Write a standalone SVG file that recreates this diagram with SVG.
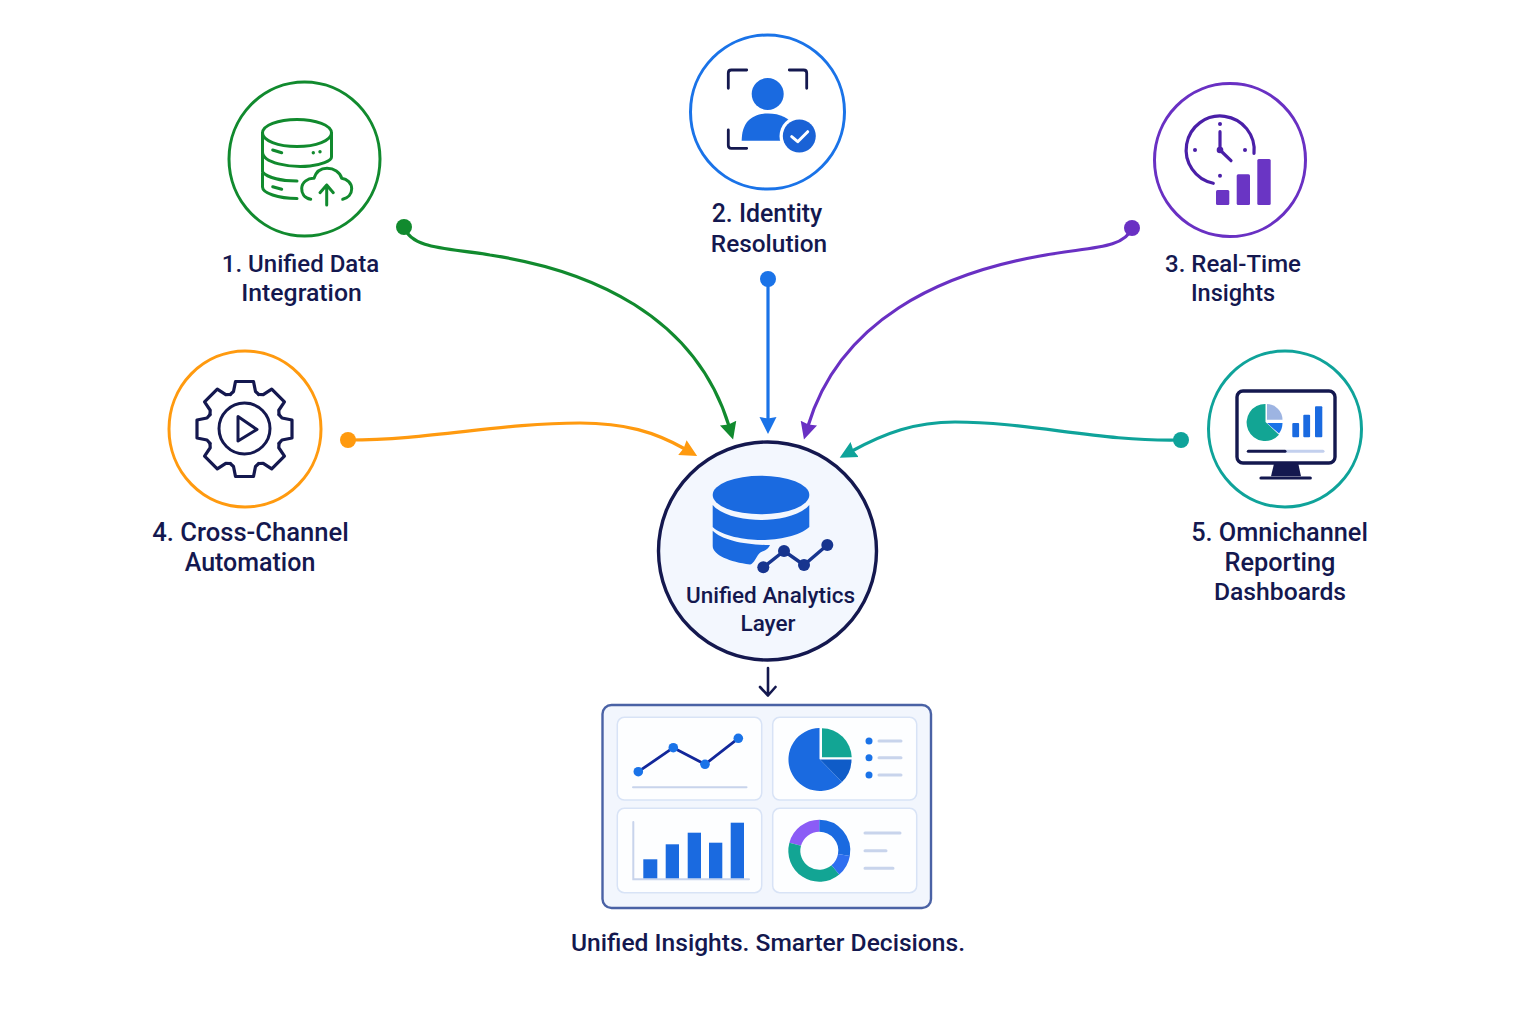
<svg xmlns="http://www.w3.org/2000/svg" width="1535" height="1024" viewBox="0 0 1535 1024">
<style>
text{font-family:"Roboto","Liberation Sans",sans-serif;font-weight:500;fill:#14184f;text-anchor:middle;font-size:24px}
.ring{fill:#fff;stroke-width:3}
.ln{fill:none;stroke-linecap:round;stroke-linejoin:round}
.conn{fill:none;stroke-width:3.200;stroke-linecap:round}
.green{stroke:#118a2e}.blue{stroke:#1a73e8}.purple{stroke:#6930c3}.orange{stroke:#ff9a0f}.teal{stroke:#0fa39a}
.card{fill:#fdfeff;stroke:#d8e3f6;stroke-width:1.5}
.soft{fill:none;stroke:#c8d4ec;stroke-width:3;stroke-linecap:round}
.bar{fill:#1a6ae0}
</style>
<defs>
<marker id="mg" markerUnits="userSpaceOnUse" markerWidth="20" markerHeight="20" viewBox="0 0 20 20" refX="3" refY="10" orient="auto"><polygon points="0,1.500 17,10 0,18.500 1.500,10" fill="#118a2e"/></marker>
<marker id="mb" markerUnits="userSpaceOnUse" markerWidth="20" markerHeight="20" viewBox="0 0 20 20" refX="3" refY="10" orient="auto"><polygon points="0,1.500 17,10 0,18.500 1.500,10" fill="#1a73e8"/></marker>
<marker id="mp" markerUnits="userSpaceOnUse" markerWidth="20" markerHeight="20" viewBox="0 0 20 20" refX="3" refY="10" orient="auto"><polygon points="0,1.500 17,10 0,18.500 1.500,10" fill="#6930c3"/></marker>
<marker id="mo" markerUnits="userSpaceOnUse" markerWidth="20" markerHeight="20" viewBox="0 0 20 20" refX="3" refY="10" orient="auto"><polygon points="0,1.500 17,10 0,18.500 1.500,10" fill="#ff9a0f"/></marker>
<marker id="mt" markerUnits="userSpaceOnUse" markerWidth="20" markerHeight="20" viewBox="0 0 20 20" refX="3" refY="10" orient="auto"><polygon points="0,1.500 17,10 0,18.500 1.500,10" fill="#0fa39a"/></marker>
<path id="gear-sector" d="M-14.300 -34.500L-11 -37.500L-9 -47.500L9 -47.500L11 -37.500L14.300 -34.500" fill="none" stroke="#14184f" stroke-width="3.200" stroke-linejoin="round" stroke-linecap="round"/>
</defs>
<rect width="1535" height="1024" fill="#fff"/>

<g id="connectors">
<path class="conn green" d="M404 227C412 250 450 248 490 255C590 270 695 315 729 426" marker-end="url(#mg)"/>
<circle cx="404" cy="227" r="8" fill="#118a2e"/>
<path class="conn blue" d="M768 279V420" marker-end="url(#mb)"/>
<circle cx="768" cy="279" r="8" fill="#1a73e8"/>
<path class="conn purple" d="M1132 228C1124 250 1085 247 1040 256C940 274 840 320 808 426" marker-end="url(#mp)"/>
<circle cx="1132" cy="228" r="8" fill="#6930c3"/>
<path class="conn orange" d="M348 440C430 440 500 423 580 423C625 423 655 432 685 449" marker-end="url(#mo)"/>
<circle cx="348" cy="440" r="8" fill="#ff9a0f"/>
<path class="conn teal" d="M1181 440C1100 442 1030 422 955 422C915 422 885 433 852 451" marker-end="url(#mt)"/>
<circle cx="1181" cy="440" r="8" fill="#0fa39a"/>
<path class="ln" d="M768 668V695M760 687L768 695.500L775.500 687" stroke="#14184f" stroke-width="2.600"/>
</g>

<g id="node-1">
<ellipse class="ring green" cx="304.500" cy="159" rx="75.500" ry="77"/>
<g class="ln green" stroke-width="3">
<ellipse cx="297" cy="133" rx="34.500" ry="13.500"/>
<path d="M262.500 133V187C262.500 193 278 198.500 297 198.500M331.500 133V157C331.500 161 320 165 310 166C290 168 262.500 163 262.500 152M262.500 172C268 178 282 181 297 181"/>
<path d="M272.700 150L281.700 152.700M272.700 186.700L281.700 189.300"/>
<path d="M310.700 199.300C304 198 301.500 193 301.700 188.300C302 182 308 178 314 178.300C316 172 321 168.300 327 168.300C334 168.300 340 172 341.700 178.300C347 179 351.700 183 351.700 188.800C351.700 194 348 198 342.700 199.300"/>
<path d="M326.700 205V185M320 192.700L326.700 185L333.300 192.700"/>
</g>
<circle cx="313.300" cy="152.700" r="1.700" fill="#118a2e"/><circle cx="320" cy="151.700" r="1.700" fill="#118a2e"/>
<text x="300.500" y="272">1. Unified Data</text>
<text x="301.500" y="301" style="font-size:24.800px">Integration</text>
</g>

<g id="node-2">
<circle class="ring blue" cx="767.500" cy="112" r="77"/>
<path class="ln" stroke="#14184f" stroke-width="2.800" d="M728.300 88.300V73Q728.300 70 731.300 70H746.700M789.300 70H803.700Q806.700 70 806.700 73V88.300M728.300 130V145.300Q728.300 148.300 731.300 148.300H746.700"/>
<circle cx="767.700" cy="94" r="16" fill="#1a6ae0"/>
<path d="M741.700 140.700C741.700 122 752 113.500 768 113.500C780 113.500 790 118 796 128V140.700Z" fill="#1a6ae0"/>
<circle cx="799.300" cy="136" r="19.800" fill="#fff"/>
<circle cx="799.300" cy="136" r="16.500" fill="#1a62d6"/>
<path class="ln" stroke="#fff" stroke-width="3" d="M791.700 136.700L797.700 141.700L807.700 131.700"/>
<text x="767" y="222" style="font-size:24.900px">2. Identity</text>
<text x="769" y="252" style="font-size:24.400px">Resolution</text>
</g>

<g id="node-3">
<ellipse class="ring purple" cx="1230" cy="160" rx="75.500" ry="76.500"/>
<g class="ln purple" stroke-width="3.200">
<path d="M1213.300 183.300A34 34 0 1 1 1254 153.300" stroke="#4a1fa8"/>
<path d="M1220 131.700V150L1231 160.700" stroke="#4a1fa8"/>
</g>
<circle cx="1220" cy="150" r="3.300" fill="#4a1fa8"/>
<g fill="#4a1fa8"><circle cx="1220" cy="124" r="2"/><circle cx="1195" cy="150" r="2"/><circle cx="1245" cy="150" r="2"/><circle cx="1220" cy="175.700" r="2"/></g>
<g fill="#6a35c4"><rect x="1216" y="190" width="13.300" height="15" rx="1.500"/><rect x="1236.700" y="174.300" width="13.300" height="30.700" rx="1.500"/><rect x="1257.300" y="159" width="13.400" height="46" rx="1.500"/></g>
<text x="1233" y="272">3. Real-Time</text>
<text x="1233" y="301" style="font-size:23.500px">Insights</text>
</g>

<g id="node-4">
<ellipse class="ring orange" cx="245" cy="429" rx="76" ry="78"/>
<g transform="translate(244.500 429)">
<use href="#gear-sector"/><use href="#gear-sector" transform="rotate(45)"/><use href="#gear-sector" transform="rotate(90)"/><use href="#gear-sector" transform="rotate(135)"/><use href="#gear-sector" transform="rotate(180)"/><use href="#gear-sector" transform="rotate(225)"/><use href="#gear-sector" transform="rotate(270)"/><use href="#gear-sector" transform="rotate(315)"/>
</g>
<circle cx="244.500" cy="428.500" r="25.500" fill="none" stroke="#14184f" stroke-width="3"/>
<path class="ln" stroke="#14184f" stroke-width="3" d="M238 416.500L257 429.500L238 441Z"/>
<text x="250.500" y="541" style="font-size:25.600px">4. Cross-Channel</text>
<text x="250" y="571" style="font-size:25px">Automation</text>
</g>

<g id="node-5">
<ellipse class="ring teal" cx="1285" cy="429" rx="76.500" ry="78"/>
<rect x="1237" y="391" width="98" height="72" rx="6" fill="#fff" stroke="#14184f" stroke-width="3.400"/>
<path d="M1265.500 404A18.500 18.500 0 1 0 1279 434.700L1265.500 422Z" fill="#12a594"/>
<path d="M1267 404A16 16 0 0 1 1282.500 419.700H1267Z" fill="#9db4e2"/>
<path d="M1267 423H1282.500A18 18 0 0 1 1279 433.500Z" fill="#1a73e8"/>
<g fill="#1a6ae0"><rect x="1292.300" y="423" width="6.800" height="14.300" rx="1"/><rect x="1303.300" y="414.700" width="6.800" height="22.600" rx="1"/><rect x="1315" y="406.300" width="7.300" height="31" rx="1"/></g>
<path class="ln" stroke="#c3d0ee" stroke-width="3" d="M1285 451.300H1323"/>
<path class="ln" stroke="#14184f" stroke-width="3" d="M1248.300 451.300H1285"/>
<path d="M1274 463.700H1298.300L1301 476.300H1271Z" fill="#14184f"/>
<path class="ln" stroke="#14184f" stroke-width="3.200" d="M1261 478H1310.300"/>
<text x="1279.500" y="541" style="font-size:25.300px">5. Omnichannel</text>
<text x="1280" y="571" style="font-size:25.300px">Reporting</text>
<text x="1280" y="600" style="font-size:24.700px">Dashboards</text>
</g>

<g id="node-center">
<circle cx="767.500" cy="551" r="109" fill="#f3f7fe" stroke="#14184f" stroke-width="3.400"/>
<ellipse cx="761" cy="495" rx="48.300" ry="19.300" fill="#1a6ae0"/>
<path d="M712.700 505C722 516 745 520 761 520C777 520 800 516 809.300 505V527C800 536 777 540 761 540C745 540 722 536 712.700 527Z" fill="#1a6ae0"/>
<path d="M712.700 530.700C722 540 745 545 770 545C767 552 761 550 758 555C755 560 753 564 750 564.500C730 562 712.700 555 712.700 546Z" fill="#1a6ae0"/>
<path class="ln" stroke="#17358f" stroke-width="3.400" d="M763.300 567.300L784 551L804 565L827.300 545"/>
<g fill="#17358f"><circle cx="763.300" cy="567.300" r="6"/><circle cx="784" cy="551" r="6"/><circle cx="804" cy="565" r="6"/><circle cx="827.300" cy="545" r="6"/></g>
<text x="770.500" y="603" style="font-size:22.500px">Unified Analytics</text>
<text x="768" y="631" style="font-size:22.500px">Layer</text>
</g>

<g id="dashboard">
<rect x="602.500" y="705" width="328.500" height="203" rx="9" fill="#f2f6fd" stroke="#4a62a5" stroke-width="2.400"/>
<rect class="card" x="617.300" y="717.300" width="144.400" height="82.700" rx="7"/>
<rect class="card" x="772.700" y="717.300" width="144" height="82.700" rx="7"/>
<rect class="card" x="617.300" y="808.300" width="144.400" height="84.400" rx="7"/>
<rect class="card" x="772.700" y="808.300" width="144" height="84.400" rx="7"/>
<path class="ln" stroke="#12279a" stroke-width="2.800" d="M638.300 771.700L673.300 747.700L705 764.300L738.300 738.300"/>
<g fill="#1a73e8"><circle cx="638.300" cy="771.700" r="4.800"/><circle cx="673.300" cy="747.700" r="4.800"/><circle cx="705" cy="764.300" r="4.800"/><circle cx="738.300" cy="738.300" r="4.800"/></g>
<path class="soft" style="stroke-width:2" d="M633 787.300H746.500"/>
<path d="M819.500 759V728A31.500 31.500 0 1 0 842 782Z" fill="#1a6ae0"/>
<path d="M820 759.500H851.500A31.500 31.500 0 0 1 842 782Z" fill="#0f5cc8"/>
<path d="M822 728.300A30 30 0 0 1 851.700 757.300H822Z" fill="#12a594"/>
<g fill="#1a73e8"><circle cx="869" cy="741" r="3.500"/><circle cx="869" cy="757.700" r="3.500"/><circle cx="869" cy="775" r="3.500"/></g>
<path class="soft" d="M879 741H901M879 757.700H901M879 775H901"/>
<path class="soft" style="stroke-width:2" d="M633.300 822V879.300H749"/>
<rect class="bar" x="643.300" y="859.300" width="14" height="19"/>
<rect class="bar" x="665.700" y="844.300" width="13.300" height="34"/>
<rect class="bar" x="687.700" y="832.700" width="13.300" height="45.600"/>
<rect class="bar" x="709" y="842.700" width="13.300" height="35.600"/>
<rect class="bar" x="730.700" y="822.700" width="13.300" height="55.600"/>
<g fill="none" stroke-width="12">
<path d="M795.200 844.200A25 25 0 0 1 819.300 825.700" stroke="#8b5cf6"/>
<path d="M835.400 869.900A25 25 0 0 1 795.200 844.200" stroke="#12a594"/>
<path d="M819.300 825.700A25 25 0 0 1 843.900 855" stroke="#1a6ae0"/>
<path d="M843.900 855A25 25 0 0 1 835.400 869.900" stroke="#2f6ff0"/>
</g>
<path class="soft" d="M865 833H900M865 850.700H886M865 868.300H893"/>
</g>
<text id="tagline" x="768" y="951" style="font-size:24.600px">Unified Insights. Smarter Decisions.</text>
</svg>
